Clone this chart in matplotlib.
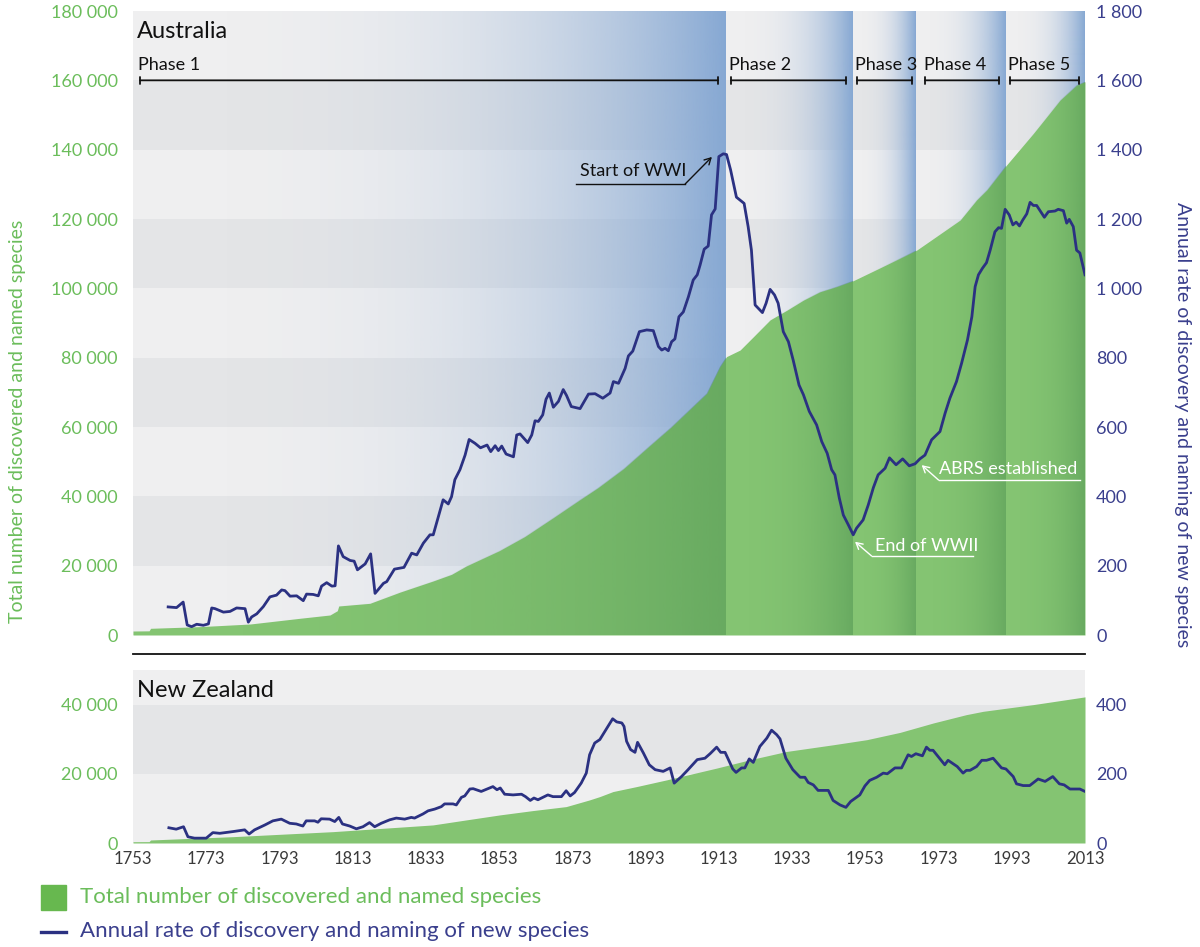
import numpy as np
import matplotlib
matplotlib.use('Agg')
import matplotlib.pyplot as plt
from matplotlib.ticker import FuncFormatter
from matplotlib.patches import Rectangle
from matplotlib.lines import Line2D

plt.rcParams['font.family'] = ['Lato', 'DejaVu Sans']

# ---------------- data ----------------
au_rate_years = [1762.6, 1764.9, 1766.7, 1767.8, 1769.0, 1770.4, 1772.2, 1773.6, 1774.5, 1775.4,
                 1777.7, 1779.5, 1781.3, 1783.6, 1784.5, 1785.4, 1786.8, 1788.6, 1790.4, 1792.2,
                 1793.6, 1794.5, 1795.9, 1797.7, 1799.5, 1800.4, 1802.2, 1803.6, 1804.5, 1805.9,
                 1807.3, 1808.2, 1809.1, 1810.4, 1812.3, 1813.4, 1814.3, 1816.4, 1817.9, 1819.1,
                 1821.4, 1822.3, 1824.4, 1827.0, 1829.1, 1830.5, 1832.3, 1834.1, 1835.0, 1836.4,
                 1837.7, 1839.1, 1840.0, 1840.9, 1842.3, 1843.7, 1844.8, 1846.4, 1847.9, 1849.7,
                 1850.7, 1851.9, 1852.8, 1853.7, 1854.9, 1856.9, 1857.8, 1858.7, 1860.8, 1861.9,
                 1862.8, 1863.7, 1864.9, 1865.8, 1866.7, 1867.8, 1869.2, 1870.5, 1871.4, 1872.7,
                 1875.1, 1877.4, 1879.2, 1881.3, 1883.3, 1884.2, 1885.6, 1887.4, 1888.3, 1889.5,
                 1891.3, 1893.3, 1895.1, 1896.5, 1897.4, 1898.3, 1899.2, 1900.1, 1901.0, 1902.1,
                 1903.3, 1904.7, 1906.0, 1907.1, 1907.9, 1909.0, 1910.1, 1911.0, 1912.0, 1913.0,
                 1914.2, 1915.1, 1916.2, 1917.8, 1919.9, 1921.0, 1921.9, 1922.9, 1924.9, 1925.9,
                 1927.0, 1928.2, 1929.2, 1930.6, 1932.0, 1933.3, 1934.9, 1936.1, 1937.7, 1939.7,
                 1941.1, 1942.6, 1943.8, 1944.7, 1945.9, 1947.0, 1948.4, 1949.7, 1950.6, 1952.4,
                 1953.8, 1955.2, 1956.5, 1958.4, 1959.6, 1961.4, 1963.2, 1965.0, 1966.6, 1967.9,
                 1969.3, 1971.1, 1973.4, 1974.8, 1976.1, 1977.9, 1979.3, 1980.9, 1982.1, 1983.0,
                 1983.9, 1985.0, 1986.1, 1987.1, 1988.4, 1989.4, 1990.2, 1991.2, 1992.3, 1993.3,
                 1994.2, 1995.1, 1996.0, 1997.1, 1998.0, 1998.9, 1999.8, 2001.9, 2003.0, 2004.8,
                 2005.7, 2007.1, 2008.0, 2008.7, 2009.8, 2010.7, 2011.6, 2013.0]
au_rate = [81, 79, 95, 29, 24, 31, 28, 32, 78, 76,
           66, 68, 78, 76, 37, 52, 61, 82, 110, 115,
           130, 128, 112, 113, 99, 118, 117, 113, 141, 151,
           141, 142, 257, 226, 215, 213, 188, 205, 234, 120,
           149, 154, 190, 195, 236, 231, 265, 289, 289, 341,
           390, 378, 399, 448, 477, 519, 564, 553, 540, 548,
           529, 546, 532, 545, 522, 514, 577, 580, 555, 577,
           618, 616, 635, 680, 698, 657, 674, 708, 691, 659,
           653, 695, 696, 683, 698, 731, 726, 769, 805, 819,
           875, 880, 878, 832, 822, 827, 820, 846, 854, 918,
           932, 976, 1024, 1039, 1068, 1113, 1122, 1212, 1229, 1380,
           1388, 1386, 1342, 1263, 1245, 1178, 1110, 952, 930, 957,
           997, 981, 957, 875, 846, 793, 721, 693, 645, 606,
           558, 524, 477, 462, 395, 346, 317, 289, 308, 332,
           375, 425, 462, 481, 511, 491, 508, 488, 494, 508,
           519, 563, 587, 640, 683, 731, 784, 851, 918, 1005,
           1039, 1058, 1074, 1110, 1163, 1175, 1173, 1228, 1212, 1183,
           1191, 1180, 1197, 1215, 1248, 1239, 1239, 1205, 1221, 1223,
           1228, 1224, 1188, 1199, 1178, 1110, 1102, 1039]

au_total_years = [1753, 1757.4, 1757.8, 1771, 1785, 1798.6, 1806.8, 1808.8, 1809.2, 1817.7,
                  1826, 1835, 1840, 1844, 1853, 1860, 1868, 1875, 1880, 1887,
                  1894, 1900, 1905, 1909.7, 1913.3, 1915.1, 1918.8, 1922.4, 1927, 1931.6,
                  1936.1, 1940.6, 1945.2, 1949.7, 1957, 1967, 1978.9, 1983.4, 1986.2, 1991.6,
                  1998.9, 2006.2, 2010.7, 2013]
au_total = [1150, 1200, 1930, 2400, 3170, 4820, 5770, 7000, 8370, 9140,
            12400, 15600, 17500, 19900, 24300, 28400, 34000, 39000, 42500, 48000,
            54500, 60000, 65000, 69700, 77400, 80300, 82200, 86000, 90900, 93700,
            96600, 99000, 100500, 102200, 105900, 111000, 119700, 125500, 128400, 135600,
            144700, 154300, 158600, 159600]

nz_rate_years = [1762.8, 1764.8, 1766.8, 1768.0, 1769.8, 1773.0, 1774.8, 1776.7, 1780.3, 1783.5,
                 1784.7, 1786.2, 1789.0, 1791.2, 1793.5, 1795.8, 1797.6, 1799.4, 1800.3, 1802.6,
                 1803.5, 1804.4, 1806.7, 1808.1, 1809.2, 1810.2, 1812.2, 1814.0, 1815.8, 1817.6,
                 1819.0, 1820.8, 1823.1, 1824.9, 1827.2, 1829.0, 1829.9, 1832.2, 1833.6, 1835.4,
                 1837.2, 1838.1, 1840.4, 1841.3, 1842.7, 1843.6, 1845.0, 1845.9, 1848.1, 1851.3,
                 1852.4, 1853.3, 1854.5, 1856.8, 1859.1, 1860.2, 1861.5, 1862.5, 1863.6, 1866.3,
                 1867.7, 1870.0, 1871.3, 1872.4, 1873.6, 1875.4, 1876.8, 1877.7, 1879.1, 1880.5,
                 1881.9, 1884.0, 1885.1, 1886.5, 1887.1, 1887.8, 1888.9, 1890.1, 1890.8, 1892.4,
                 1894.0, 1895.6, 1897.8, 1899.7, 1900.8, 1902.8, 1904.6, 1907.1, 1909.2, 1910.6,
                 1912.4, 1913.5, 1914.7, 1916.8, 1917.7, 1919.2, 1920.1, 1921.3, 1922.4, 1924.2,
                 1926.1, 1927.4, 1928.8, 1929.7, 1931.3, 1933.2, 1935.2, 1936.5, 1937.4, 1938.8,
                 1940.1, 1942.9, 1944.2, 1946.1, 1947.7, 1949.0, 1951.5, 1952.9, 1954.2, 1956.1,
                 1957.9, 1959.0, 1961.1, 1962.9, 1964.7, 1965.6, 1966.8, 1968.6, 1969.7, 1970.6,
                 1971.5, 1974.7, 1975.6, 1978.1, 1979.7, 1980.6, 1981.6, 1983.4, 1984.8, 1986.1,
                 1987.9, 1990.2, 1991.4, 1993.4, 1994.3, 1996.1, 1997.9, 2000.2, 2002.1, 2004.2,
                 2006.0, 2007.3, 2008.9, 2010.3, 2011.6, 2013.0]
nz_rate = [44, 40, 47, 18, 14, 14, 30, 28, 33, 38,
           26, 38, 52, 64, 69, 57, 55, 49, 64, 64,
           60, 70, 69, 62, 74, 55, 49, 41, 47, 59,
           47, 57, 67, 72, 69, 74, 72, 84, 93, 98,
           105, 113, 113, 110, 132, 136, 156, 157, 149, 163,
           154, 159, 141, 139, 141, 134, 123, 130, 125, 139,
           134, 134, 151, 136, 146, 173, 202, 255, 289, 299,
           323, 359, 350, 347, 337, 294, 270, 262, 291, 260,
           226, 212, 207, 217, 173, 192, 212, 241, 245, 258,
           277, 262, 262, 214, 204, 217, 217, 243, 233, 279,
           303, 326, 313, 301, 245, 212, 190, 190, 175, 168,
           152, 152, 123, 110, 103, 120, 139, 165, 181, 190,
           202, 200, 217, 217, 255, 250, 258, 252, 277, 268,
           268, 226, 239, 221, 202, 210, 210, 221, 239, 239,
           245, 217, 214, 192, 171, 166, 166, 185, 178, 192,
           171, 168, 156, 156, 156, 149]

nz_total_years = [1753, 1757.4, 1757.8, 1780.3, 1807.6, 1834.9, 1844, 1853.2, 1862.2, 1871.3,
                  1877.7, 1880.5, 1884.1, 1890.6, 1898.8, 1912.4, 1921.5, 1931.5, 1944.3, 1953.4,
                  1962.5, 1971.6, 1980.6, 1985.2, 1998.9, 2013]
nz_total = [375, 400, 870, 1830, 3280, 5220, 6670, 8120, 9370, 10520,
            12460, 13420, 14870, 16320, 18260, 21650, 24060, 26460, 28400, 29860,
            31970, 34700, 37100, 38060, 40000, 42230]

phase_edges = [1753, 1914.7, 1949.4, 1966.8, 1991.2, 2013]
phase_labels = ['Phase 1', 'Phase 2', 'Phase 3', 'Phase 4', 'Phase 5']
phase_spans = [(1754.9, 1912.8), (1916.3, 1947.7), (1950.7, 1965.8), (1969.3, 1989.5), (1992.5, 2011.4)]
x_ticks = list(range(1753, 2014, 20))

# ---------------- style ----------------
W, H = 1200, 947
GREEN_TXT = '#6bbd5b'
GREEN_FILL = '#84c472'
GREEN_LEG = '#67b84f'
NAVY = '#2b3182'
NAVY_TXT = '#3a3f8d'
LIGHT = '#efeff0'
DARK = '#e4e5e7'
BLUE = np.array([134, 168, 211]) / 255.0
DKGREEN = np.array([45, 115, 60]) / 255.0
GRAY_TXT = '#3a3a3a'

fig = plt.figure(figsize=(W / 100, H / 100), dpi=100)


def px_axes(x0, y0, x1, y1):
    return fig.add_axes([x0 / W, 1 - y1 / H, (x1 - x0) / W, (y1 - y0) / H])


def spaced(v, pos):
    return '{:,}'.format(int(v)).replace(',', ' ')


def bands(a, top, step):
    for i, lo in enumerate(range(0, top, step)):
        a.axhspan(lo, min(lo + step, top), color=LIGHT if i % 2 == 0 else DARK, zorder=0, lw=0)


def clean(a):
    for s in a.spines.values():
        s.set_visible(False)


ax = px_axes(133, 11, 1085, 635)
bands(ax, 180000, 20000)

# phase gradients
t = np.linspace(0, 1, 400)
for s, e in zip(phase_edges[:-1], phase_edges[1:]):
    img = np.zeros((1, t.size, 4))
    img[..., :3] = BLUE
    img[..., 3] = t ** 3.0
    ax.imshow(img, extent=(s, e, 0, 180000), aspect='auto', zorder=1, interpolation='bilinear')

poly = ax.fill_between(au_total_years, au_total, 0, color=GREEN_FILL, lw=0, zorder=2)
clip_path = poly.get_paths()[0]
for s, e in zip(phase_edges[:-1], phase_edges[1:]):
    img = np.zeros((1, t.size, 4))
    img[..., :3] = DKGREEN
    img[..., 3] = 0.32 * t ** 2.6
    im = ax.imshow(img, extent=(s, e, 0, 180000), aspect='auto', zorder=3, interpolation='bilinear')
    im.set_clip_path(clip_path, ax.transData)

ax.set_xlim(1753, 2013)
ax.set_ylim(0, 180000)
ax.set_yticks(range(0, 180001, 20000))
ax.yaxis.set_major_formatter(FuncFormatter(spaced))
ax.tick_params(axis='y', length=0, pad=11, labelcolor=GREEN_TXT, labelsize=13)
ax.set_xticks([])
clean(ax)

ax2 = ax.twinx()
ax2.plot(au_rate_years, au_rate, color=NAVY, lw=2.0, zorder=5, solid_joinstyle='round')
ax2.set_xlim(1753, 2013)
ax2.set_ylim(0, 1800)
ax2.set_yticks(range(0, 1801, 200))
ax2.yaxis.set_major_formatter(FuncFormatter(spaced))
ax2.tick_params(axis='y', length=0, pad=8, labelcolor=NAVY_TXT, labelsize=13)
ax2.set_xticks([])
clean(ax2)

ax.text(0.0042, 1 - 27 / 624, 'Australia', transform=ax.transAxes, fontsize=17,
        va='baseline', ha='left', color='#111111')

# phase markers
for (s, e), lab in zip(phase_spans, phase_labels):
    ax2.annotate('', xy=(e, 1600), xytext=(s, 1600),
                 arrowprops=dict(arrowstyle='|-|, widthA=0.25, widthB=0.25', lw=1.3,
                                 color='#111111', shrinkA=0, shrinkB=0))
    ax2.text(s - 0.4, 1645, lab, fontsize=13, ha='left', va='center', color='#111111')


# annotations
def callout(text, tx, ty, ux0, ux1, uy, ax_, ay_, color, fs=13):
    ax2.text(tx, ty, text, fontsize=fs, ha='left', va='center', color=color, zorder=6)
    ax2.plot([ux0, ux1], [uy, uy], color=color, lw=1.0, zorder=6)
    ax2.annotate('', xy=(ax_, ay_), xytext=(ux0 if color != '#111111' else ux1, uy),
                 arrowprops=dict(arrowstyle='->, head_width=0.25, head_length=0.45', lw=1.0,
                                 color=color, shrinkA=0, shrinkB=0), zorder=6)


callout('Start of WWI', 1875.0, 1338, 1874.0, 1903.8, 1301, 1911.1, 1379, '#111111')
callout('End of WWII', 1955.6, 257, 1954.7, 1982.5, 228, 1950.2, 269, 'white')
callout('ABRS established', 1973.2, 479, 1973.0, 2011.6, 447, 1968.4, 490, 'white')

# ---------------- New Zealand ----------------
bx = px_axes(133, 670, 1085, 843)
bands(bx, 50000, 20000)
bx.fill_between(nz_total_years, nz_total, 0, color=GREEN_FILL, lw=0, zorder=2)
bx.set_xlim(1753, 2013)
bx.set_ylim(0, 50000)
bx.set_yticks([0, 20000, 40000])
bx.yaxis.set_major_formatter(FuncFormatter(spaced))
bx.tick_params(axis='y', length=0, pad=11, labelcolor=GREEN_TXT, labelsize=13)
bx.set_xticks(x_ticks)
bx.tick_params(axis='x', length=0, pad=6, labelcolor=GRAY_TXT, labelsize=12)
clean(bx)

bx2 = bx.twinx()
bx2.plot(nz_rate_years, nz_rate, color=NAVY, lw=2.0, zorder=5, solid_joinstyle='round')
bx2.set_xlim(1753, 2013)
bx2.set_ylim(0, 500)
bx2.set_yticks([0, 200, 400])
bx2.yaxis.set_major_formatter(FuncFormatter(spaced))
bx2.tick_params(axis='y', length=0, pad=8, labelcolor=NAVY_TXT, labelsize=13)
clean(bx2)

bx.text(0.0042, 1 - 27 / 173, 'New Zealand', transform=bx.transAxes, fontsize=17,
        va='baseline', ha='left', color='#111111')

# separator
fig.add_artist(Line2D([133 / W, 1085 / W], [1 - 654 / H] * 2, color='#111111', lw=1.3))

# axis titles
fig.text(18 / W, 1 - 421 / H, 'Total number of discovered and named species', rotation=90,
         color=GREEN_TXT, fontsize=14, ha='center', va='center')
fig.text(1183 / W, 1 - 425 / H, 'Annual rate of discovery and naming of new species', rotation=270,
         color=NAVY_TXT, fontsize=14, ha='center', va='center')

# legend
fig.add_artist(Rectangle((41 / W, 1 - 910 / H), 25 / W, 25 / H, color=GREEN_LEG,
                         transform=fig.transFigure))
fig.text(80 / W, 1 - 897 / H, 'Total number of discovered and named species', fontsize=16,
         color=GREEN_TXT, ha='left', va='center')
fig.add_artist(Line2D([41 / W, 66 / W], [1 - 932 / H] * 2, color=NAVY, lw=2.4))
fig.text(80 / W, 1 - 931 / H, 'Annual rate of discovery and naming of new species', fontsize=16,
         color=NAVY_TXT, ha='left', va='center')

fig.savefig('out.png', dpi=100)
